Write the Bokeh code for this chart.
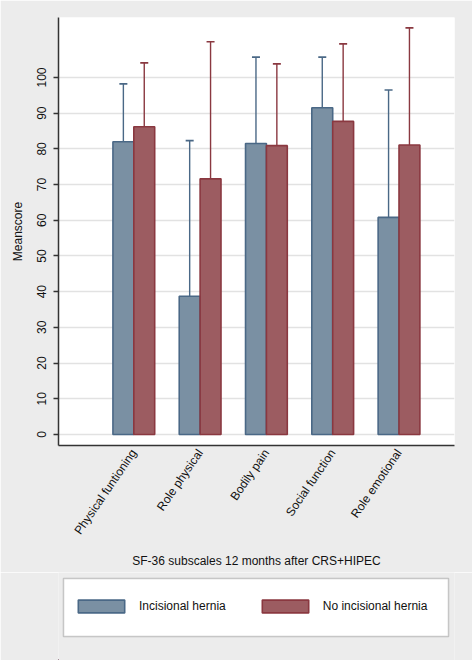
import math
from bokeh.plotting import figure
from bokeh.layouts import column
from bokeh.models import (Range1d, FixedTicker, Whisker, TeeHead, ColumnDataSource,
                          Legend, LegendItem, BoxAnnotation)
from bokeh.embed import file_html
from bokeh.resources import INLINE

categories = ["Physical funtioning", "Role physical", "Bodily pain",
              "Social function", "Role emotional"]
hernia_mean = [82.0, 38.7, 81.5, 91.5, 60.8]
hernia_upper = [98.2, 82.3, 105.7, 105.7, 96.5]
no_hernia_mean = [86.2, 71.6, 80.9, 87.7, 81.1]
no_hernia_upper = [104.1, 110.0, 103.8, 109.4, 113.9]
series_names = ["Incisional hernia", "No incisional hernia"]
y_ticks = [0, 10, 20, 30, 40, 50, 60, 70, 80, 90, 100]

FONT = "Liberation Sans"
BG = "#ececec"
BLUE_FILL, BLUE_LINE = "#7a90a3", "#4a6886"
RED_FILL, RED_LINE = "#9c5c61", "#8a3840"
BAR_W = 0.315

idx = list(range(len(categories)))
src_a = ColumnDataSource(dict(x=[i - BAR_W / 2 for i in idx], top=hernia_mean, up=hernia_upper))
src_b = ColumnDataSource(dict(x=[i + BAR_W / 2 for i in idx], top=no_hernia_mean, up=no_hernia_upper))

p = figure(width=472, height=572, output_backend="svg", toolbar_location=None,
           x_range=Range1d(-1.136, 4.837), y_range=Range1d(-3.1, 116.8),
           min_border_left=58, min_border_right=18, min_border_top=17, min_border_bottom=127)
p.border_fill_color = BG
p.background_fill_color = "white"
p.outline_line_color = None

bar_style = dict(bottom=0, width=BAR_W, line_width=1.6)
p.vbar(x="x", top="top", source=src_a, fill_color=BLUE_FILL, line_color=BLUE_LINE, **bar_style)
p.vbar(x="x", top="top", source=src_b, fill_color=RED_FILL, line_color=RED_LINE, **bar_style)

for src, col in ((src_a, BLUE_LINE), (src_b, RED_LINE)):
    w = Whisker(base="x", lower="top", upper="up", source=src,
                line_color=col, line_width=1.4,
                upper_head=TeeHead(size=8, line_color=col, line_width=1.6),
                lower_head=None, level="underlay")
    p.add_layout(w)

p.xgrid.visible = False
p.ygrid.grid_line_color = "#e2e2e2"
p.ygrid.grid_line_width = 1.3
p.ygrid.ticker = FixedTicker(ticks=y_ticks)

p.yaxis.ticker = FixedTicker(ticks=y_ticks)
p.yaxis.axis_label = "Meanscore"
p.yaxis.major_label_orientation = "vertical"
p.yaxis.major_tick_out = 5
p.yaxis.major_tick_in = 0
p.yaxis.minor_tick_out = 0
p.yaxis.minor_tick_in = 0
p.yaxis.major_label_standoff = 7
p.yaxis.axis_label_standoff = 10

p.xaxis.ticker = FixedTicker(ticks=idx)
p.xaxis.major_label_overrides = {i: c for i, c in zip(idx, categories)}
p.xaxis.major_label_orientation = 0.97
p.xaxis.major_tick_out = 0
p.xaxis.major_tick_in = 0
p.xaxis.minor_tick_out = 0
p.xaxis.minor_tick_in = 0
p.xaxis.major_label_standoff = 5
p.xaxis.axis_label = "SF-36 subscales 12 months after CRS+HIPEC"
p.xaxis.axis_label_standoff = 10

for ax in (p.xaxis[0], p.yaxis[0]):
    ax.axis_line_color = "#333333"
    ax.axis_line_width = 1.5
    ax.major_tick_line_color = "#333333"
    ax.major_tick_line_width = 1.3
    ax.major_label_text_font = FONT
    ax.major_label_text_font_size = "12px"
    ax.major_label_text_color = "#111111"
    ax.axis_label_text_font = FONT
    ax.axis_label_text_font_size = "12px"
    ax.axis_label_text_font_style = "normal"
    ax.axis_label_text_color = "#111111"

# legend strip below the chart (its frame is aligned with the chart's frame)
lg = figure(width=472, height=88, output_backend="svg", toolbar_location=None,
            x_axis_location=None, y_axis_location=None,
            x_range=Range1d(100, 101), y_range=Range1d(1000, 1001),
            min_border=0, min_border_left=0, min_border_right=0,
            min_border_top=0, min_border_bottom=0)
lg.grid.visible = False
lg.outline_line_color = None
lg.border_fill_color = BG
lg.background_fill_color = BG
la = lg.vbar(x="x", top="top", source=src_a, fill_color=BLUE_FILL, line_color=BLUE_LINE, **bar_style)
lb = lg.vbar(x="x", top="top", source=src_b, fill_color=RED_FILL, line_color=RED_LINE, **bar_style)

lg.add_layout(BoxAnnotation(left=63, right=448, top=6, bottom=64,
                            left_units="canvas", right_units="canvas",
                            top_units="canvas", bottom_units="canvas",
                            fill_color="white", fill_alpha=1.0,
                            line_color="#555555", line_width=1.5, level="underlay"))

legend = Legend(items=[LegendItem(label=series_names[0], renderers=[la]),
                       LegendItem(label=series_names[1], renderers=[lb])],
                orientation="horizontal", location=(14, 46),
                glyph_width=58, glyph_height=16, label_standoff=9, spacing=30,
                label_height=16, padding=0, margin=0,
                label_text_font=FONT, label_text_font_size="12px", label_text_color="#111111",
                border_line_color=None, background_fill_alpha=0.0)
lg.add_layout(legend)

layout = column(p, lg, spacing=0)
open("out.html", "w").write(file_html(layout, INLINE))
